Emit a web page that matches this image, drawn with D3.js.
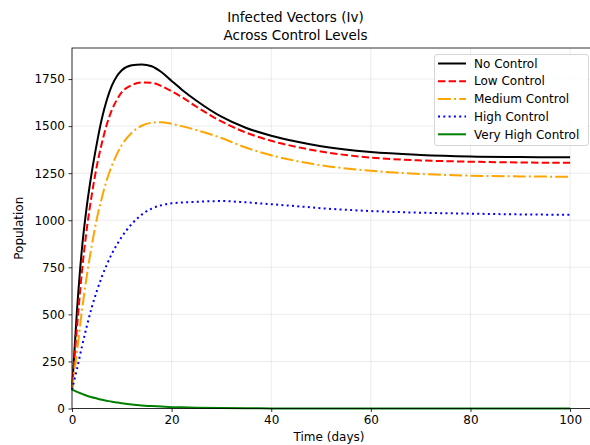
<!DOCTYPE html>
<html>
<head>
<meta charset="utf-8">
<script src="https://cdn.jsdelivr.net/npm/d3@7"></script>
<style>
    body { margin: 0; background: #fff; }
    svg { font-family: "DejaVu Sans", sans-serif; }
</style>
</head>
<body>
<script>
(function(){

// time samples (days)
var days = [0, 1, 2, 3, 4, 5, 6, 7, 8, 9, 10, 12, 14, 16, 18, 20, 22, 25, 30, 35, 40, 45, 50, 60, 70, 80, 90, 100];

// infected vectors per control level
var noControl = [100, 520, 850, 1080, 1260, 1410, 1540, 1640, 1715, 1765, 1797, 1823, 1828, 1818, 1786, 1740, 1695, 1635, 1550, 1490, 1449, 1418, 1393, 1362, 1347, 1339, 1336, 1334];
var lowControl = [100, 430, 730, 960, 1140, 1290, 1410, 1510, 1585, 1640, 1680, 1718, 1732, 1730, 1712, 1685, 1655, 1603, 1525, 1465, 1422, 1390, 1365, 1333, 1318, 1311, 1307, 1305];
var mediumControl = [100, 300, 520, 710, 870, 1010, 1120, 1215, 1290, 1350, 1400, 1465, 1502, 1518, 1521, 1512, 1500, 1479, 1437, 1385, 1345, 1315, 1292, 1263, 1246, 1237, 1233, 1231];
var highControl = [100, 210, 330, 440, 540, 625, 700, 765, 822, 870, 912, 980, 1030, 1062, 1080, 1090, 1094, 1098, 1102, 1095, 1085, 1075, 1064, 1049, 1040, 1035, 1031, 1029];
var veryHighControl = [100, 88, 78, 68, 60, 53, 46, 41, 36, 32, 28, 21, 16, 13, 10, 7, 6, 4, 2, 1, 0.5, 0.2, 0.1, 0, 0, 0, 0, 0];

var seriesNames = ["No Control", "Low Control", "Medium Control", "High Control", "Very High Control"];
var seriesColors = ["#000000", "#ff0000", "#ffa500", "#0000ff", "#008000"];
var seriesDash = [null, "7.4,3.2", "12.8,3.2,2,3.2", "2,3.3", null];

var xTicks = [0, 20, 40, 60, 80, 100];
var yTicks = [0, 250, 500, 750, 1000, 1250, 1500, 1750];

// frame
var width = 590,
    height = 445,
    left = 72,
    right = 594,
    top = 48,
    bottom = 408.5;

var svg = d3.select("body")
    .append("svg")
    .attr("width", width)
    .attr("height", height);

var x = d3.scaleLinear().domain([0, 104.8]).range([left, right]);
var y = d3.scaleLinear().domain([0, 1915]).range([bottom, top]);

// grid lines
svg.append("g")
    .selectAll("line")
    .data(xTicks)
    .enter()
    .append("line")
    .attr("x1", function(d){ return x(d); })
    .attr("x2", function(d){ return x(d); })
    .attr("y1", top)
    .attr("y2", bottom)
    .attr("stroke", "#b0b0b0")
    .attr("stroke-opacity", 0.3)
    .attr("stroke-width", 0.8);

svg.append("g")
    .selectAll("line")
    .data(yTicks)
    .enter()
    .append("line")
    .attr("x1", left)
    .attr("x2", right)
    .attr("y1", function(d){ return y(d); })
    .attr("y2", function(d){ return y(d); })
    .attr("stroke", "#b0b0b0")
    .attr("stroke-opacity", 0.3)
    .attr("stroke-width", 0.8);

// lines
var allSeries = [noControl, lowControl, mediumControl, highControl, veryHighControl];

var line = d3.line()
    .x(function(d, i){ return x(days[i]); })
    .y(function(d){ return y(d); })
    .curve(d3.curveMonotoneX);

svg.append("g")
    .selectAll("path")
    .data(allSeries)
    .enter()
    .append("path")
    .attr("d", line)
    .attr("fill", "none")
    .attr("stroke", function(d, i){ return seriesColors[i]; })
    .attr("stroke-width", 2)
    .attr("stroke-dasharray", function(d, i){ return seriesDash[i]; });

// axes
var xAxis = svg.append("g")
    .attr("transform", "translate(0," + bottom + ")")
    .call(d3.axisBottom(x).tickValues(xTicks).tickFormat(d3.format("d")).tickSize(3.5).tickPadding(3.5));

var yAxis = svg.append("g")
    .attr("transform", "translate(" + left + ",0)")
    .call(d3.axisLeft(y).tickValues(yTicks).tickFormat(d3.format("d")).tickSize(3.5).tickPadding(3.5));

[xAxis, yAxis].forEach(function(a){
    a.select(".domain").remove();
    a.selectAll("text").attr("font-size", 12).attr("fill", "#000").attr("font-family", "DejaVu Sans");
    a.selectAll("line").attr("stroke", "#000").attr("stroke-width", 0.8);
});

// spines
svg.append("rect")
    .attr("x", left)
    .attr("y", top)
    .attr("width", right - left)
    .attr("height", bottom - top)
    .attr("fill", "none")
    .attr("stroke", "#000")
    .attr("stroke-width", 0.8);

// title and labels
svg.append("text")
    .attr("x", 295.5)
    .attr("y", 22)
    .attr("text-anchor", "middle")
    .attr("font-size", 13.5)
    .text("Infected Vectors (Iv)");

svg.append("text")
    .attr("x", 295.5)
    .attr("y", 40)
    .attr("text-anchor", "middle")
    .attr("font-size", 13.5)
    .text("Across Control Levels");

svg.append("text")
    .attr("x", 329)
    .attr("y", 441)
    .attr("text-anchor", "middle")
    .attr("font-size", 12)
    .text("Time (days)");

svg.append("text")
    .attr("transform", "translate(23," + (top + bottom) / 2 + ") rotate(-90)")
    .attr("text-anchor", "middle")
    .attr("font-size", 12)
    .text("Population");

// legend
var legend = svg.append("g");

legend.append("rect")
    .attr("x", 434.5)
    .attr("y", 54.5)
    .attr("width", 154)
    .attr("height", 91)
    .attr("rx", 2.5)
    .attr("fill", "#fff")
    .attr("fill-opacity", 0.8)
    .attr("stroke", "#cccccc")
    .attr("stroke-width", 0.8);

var items = legend.selectAll("g")
    .data(seriesNames)
    .enter()
    .append("g")
    .attr("transform", function(d, i){ return "translate(0," + (63.5 + i * 17.7) + ")"; });

items.append("line")
    .attr("x1", 438)
    .attr("x2", 466)
    .attr("stroke", function(d, i){ return seriesColors[i]; })
    .attr("stroke-width", 2)
    .attr("stroke-dasharray", function(d, i){ return seriesDash[i]; });

items.append("text")
    .attr("x", 474)
    .attr("dy", "0.35em")
    .attr("font-size", 12)
    .text(function(d){ return d; });

})();
</script>
</body>
</html>
